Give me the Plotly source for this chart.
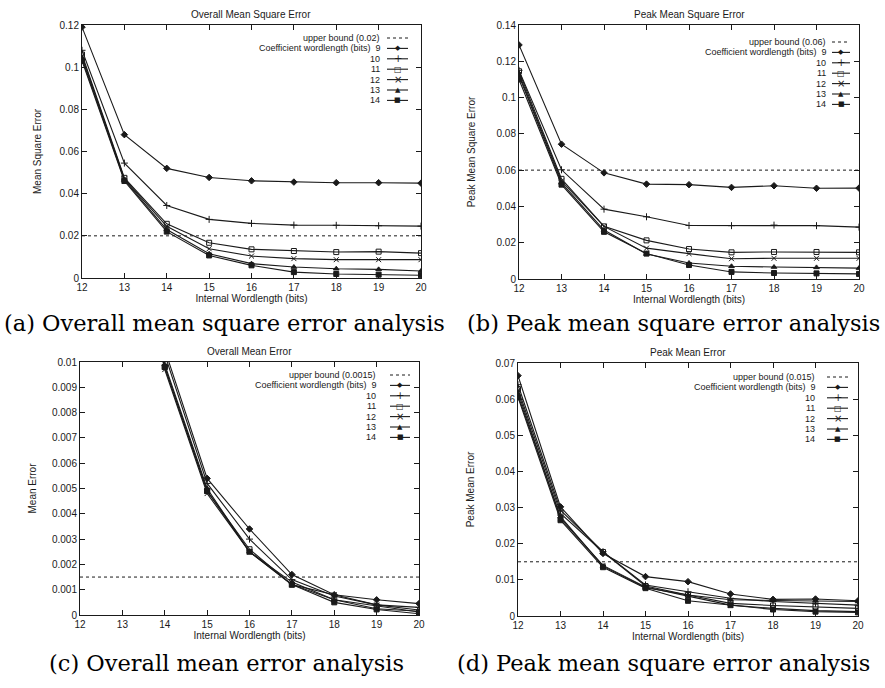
import plotly.graph_objects as go

# ---------------- data ----------------
wordlength = [12, 13, 14, 15, 16, 17, 18, 19, 20]
coef_bits = [9, 10, 11, 12, 13, 14]

# (a) Overall mean square error
a_9 = [0.119, 0.068, 0.052, 0.0477, 0.0461, 0.0455, 0.0452, 0.0452, 0.045]
a_10 = [0.108, 0.0545, 0.0344, 0.0278, 0.0259, 0.0251, 0.025, 0.0248, 0.0246]
a_11 = [0.106, 0.0475, 0.0257, 0.0167, 0.0136, 0.0128, 0.0123, 0.0125, 0.0118]
a_12 = [0.105, 0.047, 0.0245, 0.0139, 0.0104, 0.0092, 0.0087, 0.0087, 0.0087]
a_13 = [0.104, 0.0465, 0.023, 0.0115, 0.0068, 0.0052, 0.0044, 0.0041, 0.0033]
a_14 = [0.103, 0.046, 0.022, 0.0107, 0.006, 0.0028, 0.0019, 0.0016, 0.0013]
bound_a = 0.02

# (b) Peak mean square error
b_9 = [0.129, 0.0743, 0.0585, 0.0523, 0.052, 0.0505, 0.0514, 0.05, 0.0501]
b_10 = [0.115, 0.0602, 0.0385, 0.0343, 0.0295, 0.0294, 0.0297, 0.0294, 0.0286]
b_11 = [0.1145, 0.0552, 0.029, 0.0213, 0.0165, 0.0147, 0.0149, 0.0149, 0.0147]
b_12 = [0.113, 0.054, 0.029, 0.017, 0.014, 0.0112, 0.0114, 0.0114, 0.0114]
b_13 = [0.112, 0.053, 0.027, 0.0138, 0.0088, 0.007, 0.0066, 0.0064, 0.006]
b_14 = [0.110, 0.052, 0.026, 0.014, 0.0077, 0.0039, 0.0033, 0.0031, 0.0028]
bound_b = 0.06

# (c) Overall mean error
c_9 = [0.040, 0.019, 0.0105, 0.0054, 0.0034, 0.0016, 0.0008, 0.0006, 0.00045]
c_10 = [0.038, 0.018, 0.0103, 0.0052, 0.0030, 0.0014, 0.00075, 0.0004, 0.0003]
c_11 = [0.036, 0.017, 0.0098, 0.0049, 0.0026, 0.0012, 0.0006, 0.00035, 0.00012]
c_12 = [0.036, 0.017, 0.0097, 0.0048, 0.0025, 0.0012, 0.0008, 0.0004, 0.0002]
c_13 = [0.036, 0.017, 0.0099, 0.0050, 0.0025, 0.0013, 0.0006, 0.00025, 0.00015]
c_14 = [0.035, 0.017, 0.0098, 0.0049, 0.0025, 0.0012, 0.0005, 0.00022, 0.00005]
bound_c = 0.0015

# (d) Peak mean error
d_9 = [0.0665, 0.0302, 0.0173, 0.0109, 0.0095, 0.0061, 0.0046, 0.0047, 0.0042]
d_10 = [0.064, 0.0293, 0.0178, 0.0086, 0.0067, 0.0049, 0.004, 0.0035, 0.003]
d_11 = [0.0628, 0.0284, 0.0177, 0.0083, 0.0058, 0.0035, 0.0029, 0.0026, 0.0021]
d_12 = [0.062, 0.027, 0.014, 0.008, 0.0055, 0.003, 0.0021, 0.0015, 0.0012]
d_13 = [0.061, 0.0275, 0.0138, 0.0078, 0.0058, 0.0045, 0.0043, 0.0042, 0.004]
d_14 = [0.0605, 0.0265, 0.0135, 0.0077, 0.0042, 0.003, 0.0018, 0.0012, 0.001]
bound_d = 0.015

titles = ["Overall Mean Square Error", "Peak Mean Square Error",
          "Overall Mean Error", "Peak Mean Error"]
ytitles = ["Mean Square Error", "Peak Mean Square Error",
           "Mean Error", "Peak Mean Error"]
xtitle = "Internal Wordlength (bits)"
legend_head = "Coefficient wordlength (bits)"
captions = ["(a) Overall mean square error analysis",
            "(b) Peak mean square error analysis",
            "(c) Overall mean error analysis",
            "(d) Peak mean square error analysis"]

# ---------------- styling / layout ----------------
W, H = 885, 688
SANS = "Liberation Sans, Arial, sans-serif"
SERIF = "DejaVu Serif, serif"
INK = "#1a1a1a"

symbols = ["diamond", "cross-thin", "square-open", "x-thin", "triangle-up", "square"]
glyphs = ["\u25C6", "+", "\u25A1", "\u00D7", "\u25B2", "\u25A0"]
glyph_sizes = [7, 10, 8, 10, 7, 7]

# plot-area pixel boxes: (left, right, top, bottom)
boxes = [(82, 421, 25, 278), (519, 859, 25, 279),
         (80, 419, 362, 615), (518, 858, 363, 616)]
yranges = [(0, 0.12, 0.02), (0, 0.14, 0.02), (0, 0.01, 0.001), (0, 0.07, 0.01)]
ystandoff = [16, 19, 13, 19]
# key placement per panel: text right offset, sample start / end offsets, first row offset
keys = [(39, 34, 13, 13), (31, 27, 9, 17), (41, 29, 9, 13), (41, 31, 10, 14)]
ROW = 10.4

panels = [
    ([a_9, a_10, a_11, a_12, a_13, a_14], bound_a),
    ([b_9, b_10, b_11, b_12, b_13, b_14], bound_b),
    ([c_9, c_10, c_11, c_12, c_13, c_14], bound_c),
    ([d_9, d_10, d_11, d_12, d_13, d_14], bound_d),
]

fig = go.Figure()
layout = dict(width=W, height=H, margin=dict(l=0, r=0, t=0, b=0),
              paper_bgcolor="white", plot_bgcolor="white", showlegend=False,
              font=dict(family=SANS, size=10, color=INK))
annotations = []
shapes = []


def px(x):
    return x / W


def py(y):
    return 1 - y / H


for i, (series, bound) in enumerate(panels):
    n = "" if i == 0 else str(i + 1)
    xa, ya = "x" + n, "y" + n
    L, R, T, B = boxes[i]
    # upper bound line
    ub_name = f"upper bound ({bound:g})"
    fig.add_trace(go.Scatter(
        x=[wordlength[0], wordlength[-1]], y=[bound, bound],
        mode="lines", line=dict(color=INK, width=1, dash="dot"),
        name=ub_name, xaxis=xa, yaxis=ya))
    for k, (bits, vals) in enumerate(zip(coef_bits, series)):
        fig.add_trace(go.Scatter(
            x=wordlength, y=vals, mode="lines+markers",
            line=dict(color=INK, width=1.1),
            marker=dict(symbol=symbols[k], size=5, color=INK,
                        line=dict(color=INK, width=1)),
            name=f"{legend_head} {bits}", xaxis=xa, yaxis=ya))

    axcommon = dict(showline=True, linecolor=INK, linewidth=1, mirror="ticks",
                    ticks="inside", ticklen=5, tickcolor=INK, showgrid=False,
                    zeroline=False, tickfont=dict(family=SANS, size=10, color=INK),
                    automargin=False)
    layout["xaxis" + n] = dict(
        axcommon, domain=[px(L), px(R)], anchor=ya, range=[12, 20], dtick=1,
        title=dict(text=xtitle, font=dict(family=SANS, size=10, color=INK), standoff=0))
    y0, y1, dt = yranges[i]
    layout["yaxis" + n] = dict(
        axcommon, domain=[py(B), py(T)], anchor=xa, range=[y0, y1], dtick=dt,
        title=dict(text=ytitles[i], font=dict(family=SANS, size=10, color=INK),
                   standoff=ystandoff[i]))

    # key (gnuplot style: right-aligned text, sample to the right)
    tr, s0, s1, first = keys[i]
    labels = [ub_name] + [f"{legend_head}  {coef_bits[0]}"] + [str(b) for b in coef_bits[1:]]
    for r, lab in enumerate(labels):
        yy = T + first + r * ROW
        annotations.append(dict(text=lab, x=px(R - tr), y=py(yy), xref="paper", yref="paper",
                                showarrow=False, xanchor="right", yanchor="middle",
                                font=dict(family=SANS, size=9, color=INK)))
        shapes.append(dict(type="line", xref="paper", yref="paper",
                           x0=px(R - s0), x1=px(R - s1), y0=py(yy), y1=py(yy),
                           line=dict(color=INK, width=1 if r == 0 else 1.1,
                                     dash="dot" if r == 0 else "solid")))
        if r > 0:
            annotations.append(dict(text=glyphs[r - 1], x=px(R - (s0 + s1) / 2), y=py(yy),
                                    xref="paper", yref="paper", showarrow=False,
                                    xanchor="center", yanchor="middle",
                                    font=dict(family="DejaVu Sans", size=glyph_sizes[r - 1],
                                              color=INK)))

    # subplot title
    annotations.append(dict(text=titles[i], x=px((L + R) / 2), y=py(T - 11),
                            xref="paper", yref="paper", showarrow=False,
                            xanchor="center", yanchor="middle",
                            font=dict(family=SANS, size=10, color=INK)))

# captions
cap_pos = [(224, 323), (673, 323), (226, 663), (663, 663)]
for text, (cx, cy) in zip(captions, cap_pos):
    annotations.append(dict(text=text, x=px(cx), y=py(cy), xref="paper", yref="paper",
                            showarrow=False, xanchor="center", yanchor="middle",
                            font=dict(family=SERIF, size=22.5, color="black")))

layout["annotations"] = annotations
layout["shapes"] = shapes
fig.update_layout(**layout)
fig.write_html("out.html",
               config={"displayModeBar": False},
               post_script="document.body.style.margin='0px';"
                           "document.body.style.overflow='hidden';")
